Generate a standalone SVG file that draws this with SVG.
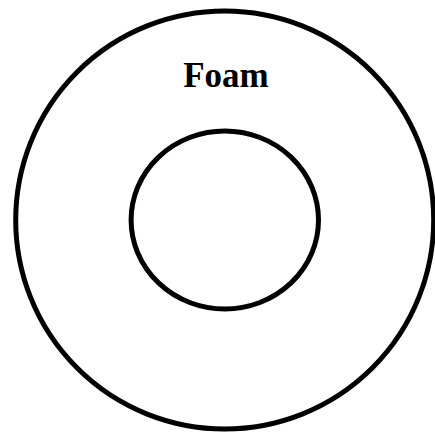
<svg xmlns="http://www.w3.org/2000/svg" width="435" height="434" viewBox="0 0 435 434">
<style>
.ring{fill:none;stroke:#000;stroke-width:5}
.lbl{font-family:"Liberation Serif","Times New Roman",serif;font-weight:bold;font-size:35px;fill:#000}
</style>
<rect width="435" height="434" fill="#fff"/>
<g id="outer"><ellipse class="ring" cx="224.7" cy="220" rx="209" ry="209"/></g>
<g id="inner"><ellipse class="ring" cx="224.8" cy="220" rx="93.7" ry="89"/></g>
<g id="label"><text class="lbl" x="226" y="87" text-anchor="middle">Foam</text></g>
<g id="connectors"/>
</svg>
